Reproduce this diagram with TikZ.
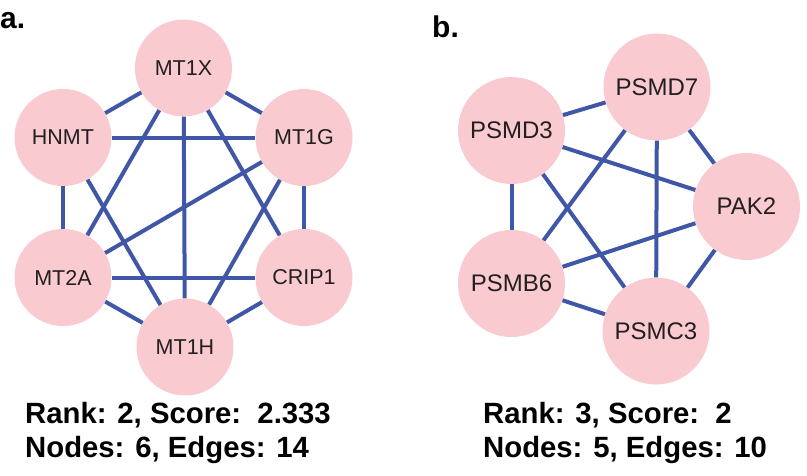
\documentclass[tikz,border=0pt]{standalone}
\usepackage{fontspec}
\setmainfont{Liberation Sans}
\definecolor{nodepink}{HTML}{F9CBD1}
\definecolor{edgeblue}{HTML}{3F57A6}
\definecolor{labelgray}{HTML}{231F20}
\begin{document}
\begin{tikzpicture}[x=1pt,y=-1pt,
  gene/.style={circle,fill=nodepink,inner sep=0pt,text=labelgray},
  ga/.style={gene,minimum size=97pt,font=\fontsize{21.5}{24}\selectfont},
  gb/.style={gene,minimum size=107pt,font=\fontsize{24}{28}\selectfont},
  link/.style={draw=edgeblue,line width=4pt},
  caption/.style={anchor=base west,inner sep=0pt,font=\bfseries\fontsize{29.3}{32}\selectfont},
  panel/.style={anchor=base west,inner sep=0pt,font=\bfseries\fontsize{30}{34}\selectfont}]
\useasboundingbox (0,0) rectangle (807,475);
% panel a
\node[ga] (mt1x) at (183.5,68) {MT1X};
\node[ga] (hnmt) at (63,137.5) {HNMT};
\node[ga] (mt1g) at (304,137.5) {MT1G};
\node[ga] (mt2a) at (63,277.5) {MT2A};
\node[ga] (crip1) at (304,277.5) {CRIP1};
\node[ga] (mt1h) at (185,347) {MT1H};
\foreach \u/\v in {mt1x/hnmt,mt1x/mt1g,mt1x/mt2a,mt1x/mt1h,mt1x/crip1,
  hnmt/mt1g,hnmt/mt2a,hnmt/mt1h,mt1g/mt2a,mt1g/crip1,mt1g/mt1h,
  mt2a/crip1,mt2a/mt1h,crip1/mt1h}
  \draw[link] (\u) -- (\v);
% panel b
\node[gb] (psmd7) at (657,87) {PSMD7};
\node[gb] (psmd3) at (511.5,130.5) {PSMD3};
\node[gb] (pak2) at (746.5,206.5) {PAK2};
\node[gb] (psmb6) at (511.5,283.5) {PSMB6};
\node[gb] (psmc3) at (656,331) {PSMC3};
\foreach \u/\v in {psmd3/psmd7,psmd3/pak2,psmd3/psmb6,psmd3/psmc3,
  psmd7/pak2,psmd7/psmb6,psmd7/psmc3,pak2/psmb6,pak2/psmc3,psmb6/psmc3}
  \draw[link] (\u) -- (\v);
% labels
\node[panel] (la) at (0,28) {a.};
\node[panel] (lb) at (432,37) {b.};
\node[caption] (ra) at (25,423) {Rank: 2, Score:\ \ 2.333};
\node[caption] (na) at (25,457) {Nodes: 6, Edges: 14};
\node[caption] (rb) at (483,423) {Rank: 3, Score:\ \ 2};
\node[caption] (nb) at (483,457) {Nodes: 5, Edges: 10};
\end{tikzpicture}
\end{document}
